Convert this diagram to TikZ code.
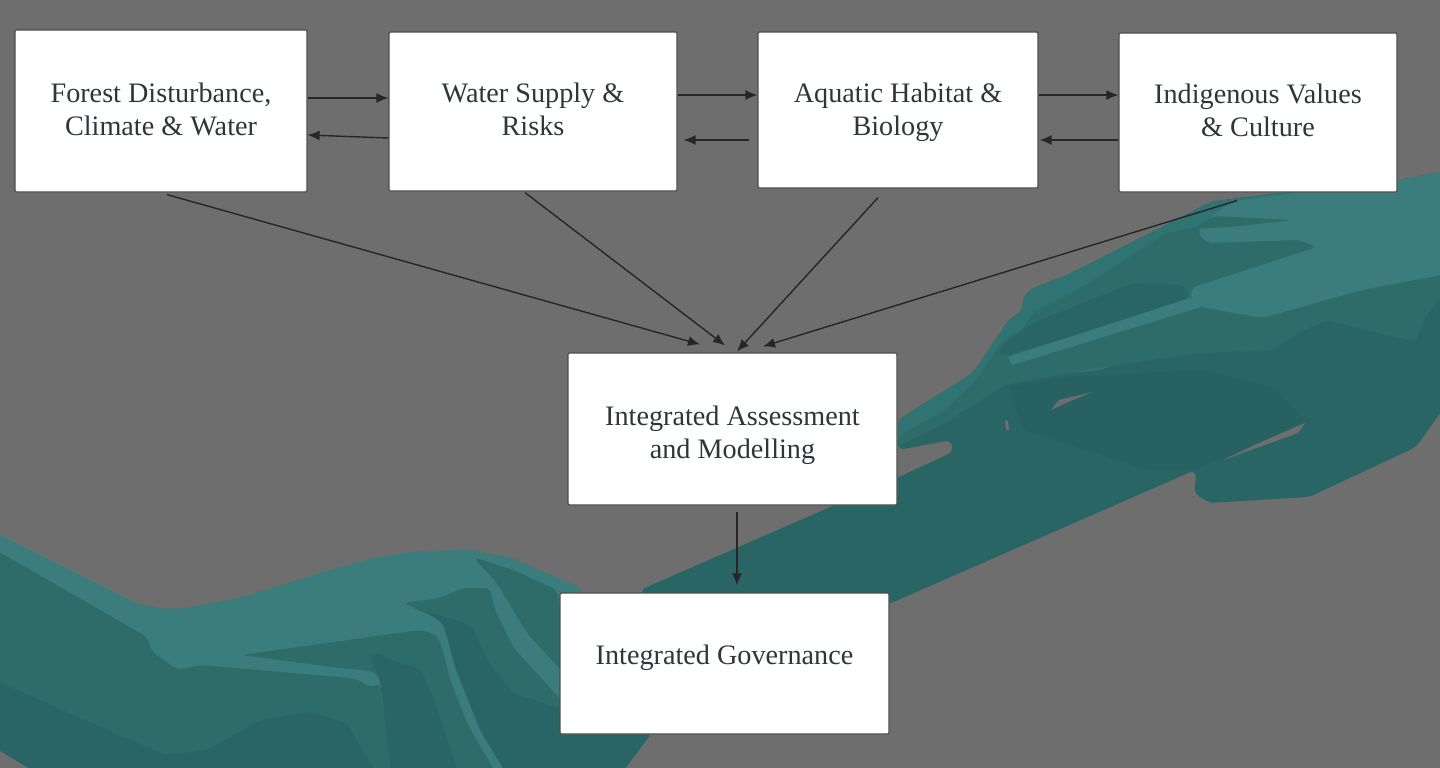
\documentclass[tikz,border=0pt]{standalone}
\usepackage{fontspec}
\setmainfont{Liberation Serif}
\usetikzlibrary{calc,arrows.meta}
\definecolor{slate}{HTML}{6E6E6E}
\definecolor{tealL}{HTML}{3A7D7C}
\definecolor{tealE}{HTML}{2F7472}
\definecolor{tealM}{HTML}{2E6C69}
\definecolor{tealD}{HTML}{2A6565}
\definecolor{tealS}{HTML}{286161}
\definecolor{ink}{HTML}{2C3838}
\newcommand{\lift}[1]{\rule[-#1]{0pt}{0pt}}
\newcommand{\drop}[1]{\rule{0pt}{#1}}

\begin{document}
\begin{tikzpicture}[x=0.5pt,y=-0.5pt]
\tikzstyle{main}=[draw=black!70, line width=0.6pt, fill=white, rounded corners=0.6pt, inner sep=0pt, align=center, text=ink, font=\fontsize{14.1}{16.5}\selectfont]
\tikzstyle{link}=[-{Latex[length=6pt,width=5pt]}, draw=black!85, line width=0.7pt]
\tikzstyle{skin}=[rounded corners=3pt]
\useasboundingbox (0,0) rectangle (1440,767.5);
\fill[slate] (-6,-6) rectangle (1446,775);
% right arm
\fill[tealD,skin] (640,590) -- (899,477) -- (953,452) -- (951,440) -- (898,450) -- (898,420) -- (973,373) -- (1000,333) -- (1010,318) -- (1022,312) -- (1023,297) -- (1033,288) -- (1067,275) -- (1160,228) -- (1210,202) -- (1237,198) -- (1398,180) -- (1446,171) -- (1446,405) -- (1416,447) -- (1309,497) -- (1209,503) -- (1194,493) -- (1196,477) -- (1195,470) -- (891,603) -- (700,690) -- cycle;
\fill[tealE,skin] (898,447) -- (898,420) -- (973,373) -- (1000,333) -- (1010,318) -- (1022,312) -- (1023,297) -- (1033,288) -- (1067,275) -- (1160,228) -- (1210,202) -- (1300,190) -- (1300,300) -- (1100,370) -- (1000,380) -- cycle;
\fill[tealM,skin] (898,437) -- (945,410) -- (975,382) -- (1003,340) -- (1022,330) -- (1033,313) -- (1073,293) -- (1167,233) -- (1197,227) -- (1213,215) -- (1446,200) -- (1446,290) -- (1425,317) -- (1416,342) -- (1326,320) -- (1298,333) -- (1273,350) -- (1200,353) -- (1095,368) -- (1005,385) -- (950,420) -- (898,447) -- cycle;
\fill[tealL,skin] (1233,201) -- (1398,180) -- (1446,171) -- (1446,274) -- (1362,290) -- (1262,318) -- (1201,307) -- (1191,300) -- (1191,288) -- (1317,247) -- (1300,240) -- (1207,243) -- (1197,232) -- (1213,215) -- cycle;
\fill[tealM,skin] (1197,229) -- (1213,216) -- (1293,220) -- (1240,226) -- cycle;
\fill[tealD,skin] (1000,347) -- (1033,323) -- (1133,283) -- (1183,285) -- (1190,297) -- (1117,323) -- (1000,357) -- cycle;
\fill[tealL] (1008,357) -- (1190,298) -- (1201,307) -- (1012,365) -- cycle;
\fill[tealS,skin] (1009,387) -- (1065,377) -- (1200,370) -- (1273,387) -- (1307,420) -- (1259,443) -- (1194,470) -- (1148,470) -- (1023,430) -- cycle;
\fill[slate] (1051,410) -- (1059,400) -- (1092,392) -- (1066,403) -- cycle;
\fill[slate] (1305,423) -- (1298,433) -- (1223,460) -- (1259,443) -- cycle;
\fill[slate] (1005,420) -- (1008,421) -- (1009,430) -- (1006,430) -- cycle;
% left arm
\fill[tealL,skin] (-6,532) -- (56,563) -- (130,600) .. controls (150,608) and (170,610) .. (191,607) -- (243,597) -- (330,570) -- (373,558) -- (412,552) -- (468,549) -- (512,558) -- (581,588) -- (600,680) -- (650,735) -- (620,775) -- (40,775) -- (-6,747) -- cycle;
\fill[tealM,skin] (-6,549) -- (147,637) -- (152,652) -- (178,670) -- (200,665) -- (340,677) -- (360,680) -- (370,688) -- (380,683) -- (392,775) -- (40,775) -- (-6,747) -- cycle;
\fill[tealD,skin] (-6,680) -- (165,755) -- (208,750) -- (260,720) -- (312,712) -- (347,723) -- (377,775) -- (40,775) -- (-6,747) -- cycle;
\fill[tealM,skin] (241,655) -- (420,630) -- (437,635) -- (443,650) -- (450,680) -- (468,725) -- (497,775) -- (390,775) -- (380,680) -- (377,673) -- (363,670) -- (340,668) -- cycle;
\fill[tealD,skin] (370,658) -- (377,652) -- (397,663) -- (420,668) -- (433,697) -- (459,775) -- (391,775) -- (383,700) -- (380,680) -- cycle;
\fill[tealM,skin] (473,557) -- (513,570) -- (557,590) -- (570,680) -- (527,633) -- (497,583) -- cycle;
\fill[tealM,skin] (403,603) -- (440,598) -- (463,588) -- (490,588) -- (495,610) -- (513,647) -- (570,710) -- (570,725) -- (480,730) -- (455,667) -- (448,640) -- (443,623) -- (427,613) -- cycle;
\fill[tealD,skin] (410,607) -- (427,613) -- (443,623) -- (448,640) -- (455,667) -- (480,730) -- (507,775) -- (620,775) -- (652,733) -- (600,722) -- (513,693) -- (487,660) -- (473,627) -- (450,618) -- cycle;
% boxes
\node[main, minimum width=146pt, minimum height=81pt] (forest) at (161,111) {Forest Disturbance,\\Climate \& Water\lift{2pt}};
\node[main, minimum width=144pt, minimum height=79.5pt] (water) at (533,111.5) {Water Supply \&\\Risks\lift{2pt}};
\node[main, minimum width=140pt, minimum height=78pt] (habitat) at (898,110) {\drop{12.5pt}Aquatic Habitat \&\\Biology};
\node[main, minimum width=139pt, minimum height=79.5pt] (culture) at (1258,112.5) {Indigenous Values\\\& Culture\lift{2pt}};
\node[main, minimum width=164.5pt, minimum height=76pt] (assess) at (732.5,429) {\drop{16.5pt}Integrated Assessment\\and Modelling};
\node[main, minimum width=164.5pt, minimum height=70.5pt] (govern) at (724.5,663.5) {Integrated Governance\lift{9pt}};
% arrows
\foreach \src/\sx/\sy/\dst/\dx/\dy in {forest.east/0/-13/water.west/0/-13.5,
    water.west/0/26.5/forest.east/0/24,
    water.east/0/-16.5/habitat.west/0/-15,
    habitat.west/-8/30/water.east/6/28.5,
    habitat.east/0/-15/culture.west/0/-17.5,
    culture.west/0/27.5/habitat.east/1/30,
    forest.south/6/2/assess.north/-32.5/-8,
    water.south/-8/1/assess.north/-7.5/-7,
    habitat.south/-20/9/assess.north/4.5/-1,
    culture.south/-21/8/assess.north/30.5/-6,
    assess.south/4.5/6/govern.north/12.5/-7}
    \draw[link] ($(\src)+(\sx,\sy)$) -- ($(\dst)+(\dx,\dy)$);
\end{tikzpicture}
\end{document}
